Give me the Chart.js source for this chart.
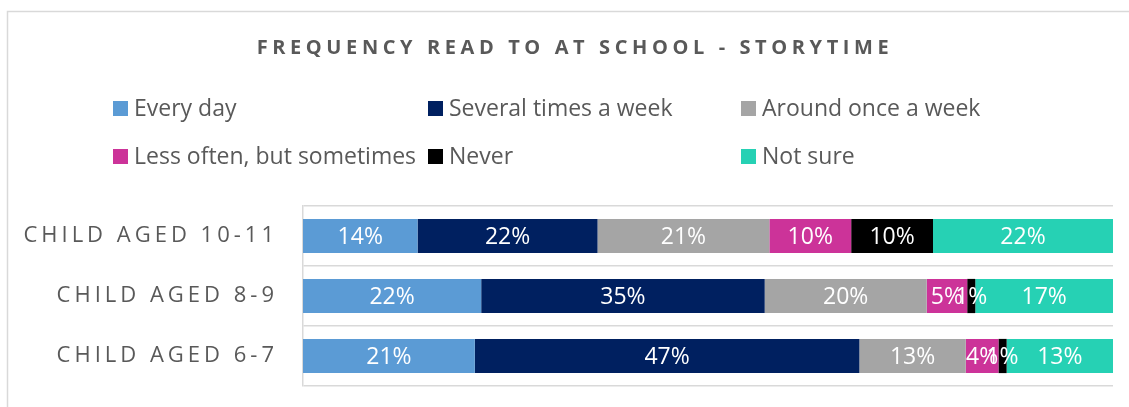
<!DOCTYPE html>
<html>
<head>
<meta charset="utf-8">
<script src="https://cdn.jsdelivr.net/npm/chart.js@4"></script>
<style>
  body { margin: 0; background: #fff; }
  #wrap { width: 1129px; height: 407px; }
</style>
</head>
<body>
<div id="wrap"><canvas id="storyChart"></canvas></div>
<script>
// Data
const chartTitle = 'FREQUENCY READ TO AT SCHOOL - STORYTIME';
const categories = ['CHILD AGED 10-11', 'CHILD AGED 8-9', 'CHILD AGED 6-7'];
const seriesNames = ['Every day', 'Several times a week', 'Around once a week',
  'Less often, but sometimes', 'Never', 'Not sure'];
const everyDay = [14, 22, 21];
const severalTimes = [22, 35, 47];
const onceAWeek = [21, 20, 13];
const lessOften = [10, 5, 4];
const never = [10, 1, 1];
const notSure = [22, 17, 13];
const seriesColors = ['#5B9BD5', '#002060', '#A5A5A5', '#CC3399', '#000000', '#26D1B4'];

const allSeries = [everyDay, severalTimes, onceAWeek, lessOften, never, notSure];
// 100% stacked: each row fills the full width
const rowTotals = categories.map((c, i) => allSeries.reduce((s, arr) => s + arr[i], 0));

const textGrey = '#595959';
const lineGrey = '#D9D9D9';
const font = "'Open Sans', sans-serif";

// Frame, title and spaced axis labels
const framePlugin = {
  id: 'frame',
  beforeDraw(chart) {
    const ctx = chart.ctx;
    ctx.save();
    ctx.strokeStyle = lineGrey;
    ctx.lineWidth = 1.5;
    ctx.strokeRect(7.5, 11.5, 1140, 420);
    ctx.fillStyle = textGrey;
    ctx.font = 'bold 20px ' + font;
    ctx.letterSpacing = '4.6px';
    ctx.textAlign = 'center';
    ctx.textBaseline = 'middle';
    ctx.fillText(chartTitle, 575, 48);
    ctx.restore();
    ctx.letterSpacing = '4px';
  },
  beforeDatasetsDraw(chart) {
    chart.ctx.letterSpacing = '0px';
  }
};

// Legend in fixed columns, like the original
const legendPlugin = {
  id: 'gridLegend',
  afterDraw(chart) {
    const ctx = chart.ctx;
    const cols = [113, 428, 741];
    const rows = [108, 156];
    ctx.save();
    ctx.font = '23px ' + font;
    ctx.textBaseline = 'middle';
    chart.data.datasets.forEach((ds, i) => {
      const x = cols[i % 3];
      const y = rows[Math.floor(i / 3)];
      ctx.fillStyle = ds.backgroundColor;
      ctx.fillRect(x, y - 7, 15, 15);
      ctx.fillStyle = textGrey;
      ctx.fillText(ds.label, x + 21, y + 1);
    });
    ctx.restore();
  }
};

// Value labels in the middle of each segment
const valueLabels = {
  id: 'valueLabels',
  afterDatasetsDraw(chart) {
    const ctx = chart.ctx;
    ctx.save();
    ctx.font = '23px ' + font;
    ctx.fillStyle = '#fff';
    ctx.textAlign = 'center';
    ctx.textBaseline = 'middle';
    chart.data.datasets.forEach((ds, i) => {
      chart.getDatasetMeta(i).data.forEach((bar, j) => {
        const v = allSeries[i][j];
        ctx.fillText(v + '%', (bar.x + bar.base) / 2, bar.y + 1);
      });
    });
    ctx.restore();
  }
};

const ctx = document.getElementById('storyChart').getContext('2d');
const storyChart = new Chart(ctx, {
  type: 'bar',
  data: {
    labels: categories,
    datasets: allSeries.map((arr, i) => ({
      label: seriesNames[i],
      data: arr.map((v, j) => v / rowTotals[j] * 100),
      backgroundColor: seriesColors[i],
      borderWidth: 0,
      categoryPercentage: 1,
      barPercentage: 0.57
    }))
  },
  options: {
    indexAxis: 'y',
    responsive: true,
    maintainAspectRatio: false,
    animation: false,
    layout: { padding: { top: 206, bottom: 21, right: 16, left: 0 } },
    plugins: {
      legend: { display: false },
      title: { display: false },
      tooltip: { enabled: false }
    },
    scales: {
      x: {
        stacked: true,
        min: 0,
        max: 100,
        display: false
      },
      y: {
        stacked: true,
        afterFit(scale) {
          scale.width = 303;
          scale.paddingTop = 0;
          scale.paddingBottom = 0;
        },
        grid: { offset: true, color: lineGrey, lineWidth: 1.5, drawTicks: false },
        border: { display: true, color: lineGrey, width: 1.5 },
        ticks: {
          color: textGrey,
          padding: 25,
          font: { family: font, size: 22 }
        }
      }
    }
  },
  plugins: [framePlugin, legendPlugin, valueLabels]
});
</script>
</body>
</html>
